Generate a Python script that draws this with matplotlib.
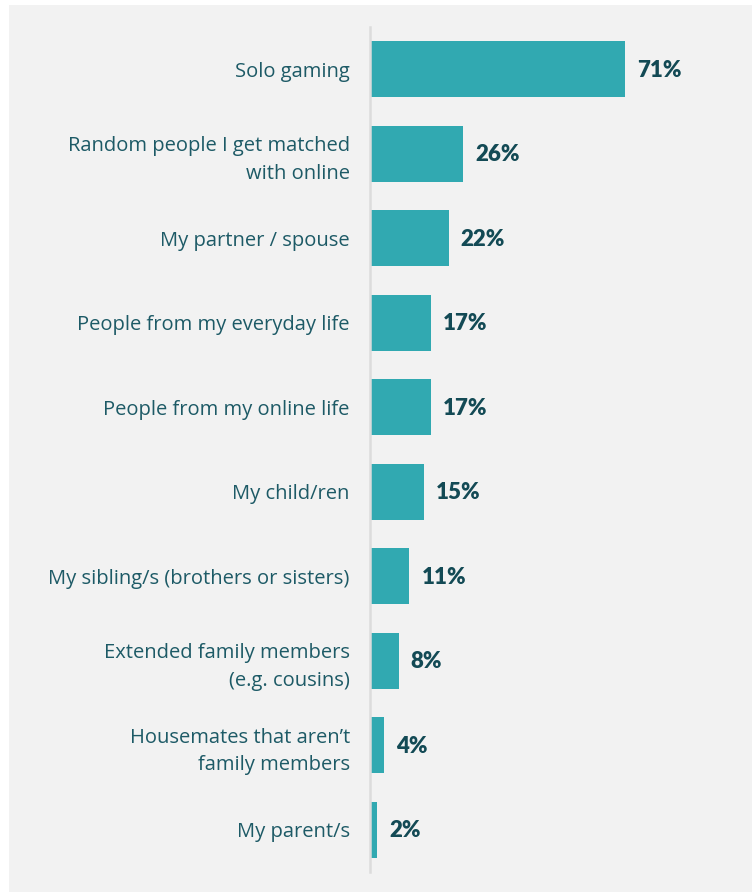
import matplotlib.pyplot as plt
from matplotlib.patches import Rectangle

categories = [
    "Solo gaming",
    "Random people I get matched\nwith online",
    "My partner / spouse",
    "People from my everyday life",
    "People from my online life",
    "My child/ren",
    "My sibling/s (brothers or sisters)",
    "Extended family members\n(e.g. cousins)",
    "Housemates that aren\u2019t\nfamily members",
    "My parent/s",
]
values = [71, 26, 22, 17, 17, 15, 11, 8, 4, 2]

bar_color = "#31a9b1"
text_color = "#1d5a66"
value_color = "#134a55"
bg = "#f2f2f2"

fig = plt.figure(figsize=(7.52, 8.92), dpi=100, facecolor="white")
# grey panel leaving a thin white strip at top and left
fig.patches.append(Rectangle((9 / 752, 0), 1, 887 / 892, transform=fig.transFigure,
                             facecolor=bg, edgecolor="none", zorder=-5))

ax = fig.add_axes([370 / 752, 20 / 892, 382 / 752, 845 / 892])
ax.set_zorder(2)
ax.set_facecolor("none")

y = list(range(len(values)))
ax.barh(y, values, height=0.66, color=bar_color, zorder=2)
ax.set_xlim(0, 106.4)
ax.set_ylim(9.5, -0.5)

for yi, v in zip(y, values):
    ax.text(v + 3.3, yi + 0.01, f"{v}%", va="center", ha="left", fontsize=16,
            fontweight="heavy", family="Lato", color=value_color)

ax.set_yticks(y)
ax.set_yticklabels(categories, fontsize=14.5, family="Open Sans", color=text_color,
                   linespacing=1.5)
ax.tick_params(axis="y", length=0, pad=14.5)
ax.set_xticks([])
for s in ["top", "right", "bottom"]:
    ax.spines[s].set_visible(False)
ax.spines["left"].set_color("#dcdcdc")
ax.spines["left"].set_linewidth(1.8)

fig.savefig("out.png", dpi=100, facecolor=fig.get_facecolor())
